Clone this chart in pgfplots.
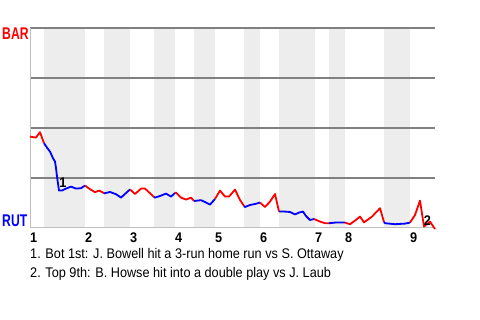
\documentclass[border=0pt]{standalone}
\usepackage{fontspec}
\setmainfont{Liberation Sans}
\newfontfamily\condfont{Liberation Sans}[FakeStretch=0.91]
\newfontfamily\barfont{Liberation Sans}[FakeStretch=0.72]
\usepackage{pgfplots}
\pgfplotsset{compat=1.18}
\definecolor{band}{HTML}{EDEDED}
\definecolor{gridc}{HTML}{808080}
\definecolor{axc}{HTML}{BFBFBF}
\definecolor{wred}{HTML}{FF0000}
\definecolor{wblue}{HTML}{0000FF}
\begin{document}
\begin{tikzpicture}
\path (0bp,0bp) rectangle (480bp,320bp);
\begin{axis}[at={(30bp,92bp)}, anchor=south west, scale only axis,
  width=405bp, height=200bp, xmin=30, xmax=435, ymin=0, ymax=100,
  clip=false, set layers,
  axis x line*=bottom, axis y line*=left,
  axis line style={draw=axc, line width=1bp, -},
  ytick={25,50,75,100}, yticklabels={}, ymajorgrids,
  grid style={draw=gridc, line width=1.2bp},
  major tick length=0pt,
  xtick={30,85,130,175,215,260,315,345,410},
  xticklabels={1,2,3,4,5,6,7,8,9},
  xticklabel style={anchor=base west, inner sep=0pt, yshift=-15bp,
    font=\condfont\bfseries\fontsize{14}{14}\selectfont},
  every axis plot/.append style={line width=1.8bp, line join=round, mark=none}]
\begin{pgfonlayer}{axis background}
\fill[band] (axis cs:44,0) rectangle (axis cs:85,100);
\fill[band] (axis cs:104,0) rectangle (axis cs:130,100);
\fill[band] (axis cs:154,0) rectangle (axis cs:175,100);
\fill[band] (axis cs:194,0) rectangle (axis cs:215,100);
\fill[band] (axis cs:244,0) rectangle (axis cs:260,100);
\fill[band] (axis cs:279,0) rectangle (axis cs:315,100);
\fill[band] (axis cs:329,0) rectangle (axis cs:345,100);
\fill[band] (axis cs:384,0) rectangle (axis cs:410,100);
\end{pgfonlayer}
% top 1
\addplot[wred] coordinates {(30,45.7)(36,45.2)(40,47.9)(44,42.4)};
% bottom 1
\addplot[wblue] coordinates {(44,42.4)(47,40.2)(50,38.2)(53,34.9)(55,33.2)(56,30.0)(57,25.7)(59,18.7)(62,18.7)(65,19.5)(71,20.7)(76,19.7)(81,19.9)(85,21.2)};
% top 2
\addplot[wred] coordinates {(85,21.2)(90,19.4)(95,17.9)(99,18.7)(103,17.7)(104,17.3)};
% bottom 2
\addplot[wblue] coordinates {(104,17.3)(110,18.0)(116,16.9)(121,15.2)(130,19.3)};
% top 3
\addplot[wred] coordinates {(130,19.3)(135,17.0)(141,19.7)(145,19.7)(150,17.4)(154,15.5)};
% bottom 3
\addplot[wblue] coordinates {(154,15.5)(155,15.2)(160,16.0)(166,17.2)(171,15.7)(175,17.5)};
% top 4
\addplot[wred] coordinates {(175,17.5)(176,17.7)(181,15.2)(186,14.2)(191,15.2)(194,13.5)};
% bottom 4
\addplot[wblue] coordinates {(194,13.5)(201,13.9)(205,13.0)(210,11.7)(215,14.5)};
% top 5
\addplot[wred] coordinates {(215,14.5)(220,18.7)(225,15.7)(229,15.7)(235,19.2)(240,14.0)(244,11.0)};
% bottom 5
\addplot[wblue] coordinates {(244,11.0)(245,10.5)(250,11.5)(255,12.0)(260,12.7)};
% top 6
\addplot[wred] coordinates {(260,12.7)(265,10.5)(270,13.2)(275,17.0)(279,8.2)};
% bottom 6
\addplot[wblue] coordinates {(279,8.2)(285,8.2)(290,8.0)(295,6.8)(299,7.7)(303,8.2)(306,6.0)(310,4.0)(314,4.5)};
% top 7
\addplot[wred] coordinates {(314,4.5)(320,3.2)(325,2.4)(329,2.4)};
% bottom 7
\addplot[wblue] coordinates {(329,2.4)(335,2.7)(345,2.7)};
% top 8
\addplot[wred] coordinates {(345,2.7)(350,1.9)(355,3.7)(360,5.7)(364,2.8)(372,5.7)(380,9.9)(384,3.0)};
% bottom 8
\addplot[wblue] coordinates {(384,3.0)(385,2.4)(395,1.9)(405,2.2)(410,2.7)};
% top 9
\addplot[wred] coordinates {(410,2.7)(415,6.5)(420,13.7)(424,0.7)(430,3.2)(435,-0.5)};
\node[font=\condfont\bfseries\fontsize{14}{14}\selectfont, inner sep=0pt] at (axis cs:63,22.8) {1};
\node[font=\condfont\bfseries\fontsize{14}{14}\selectfont, inner sep=0pt] at (axis cs:427.5,3.8) {2};
\end{axis}
\node[anchor=base west, inner sep=0pt, text=wred, font=\barfont\bfseries\fontsize{17}{17}\selectfont] at (2bp,280bp) {BAR};
\node[anchor=base west, inner sep=0pt, text=wblue, font=\barfont\bfseries\fontsize{17}{17}\selectfont] at (2bp,93.3bp) {RUT};
\node[anchor=base west, inner sep=0pt, font=\condfont\fontsize{14}{14}\selectfont] at (30bp,61bp) {1. Bot 1st: J. Bowell hit a 3-run home run vs S. Ottaway};
\node[anchor=base west, inner sep=0pt, font=\condfont\fontsize{14}{14}\selectfont] at (30bp,42.7bp) {2. Top 9th: B. Howse hit into a double play vs J. Laub};
\end{tikzpicture}
\end{document}
